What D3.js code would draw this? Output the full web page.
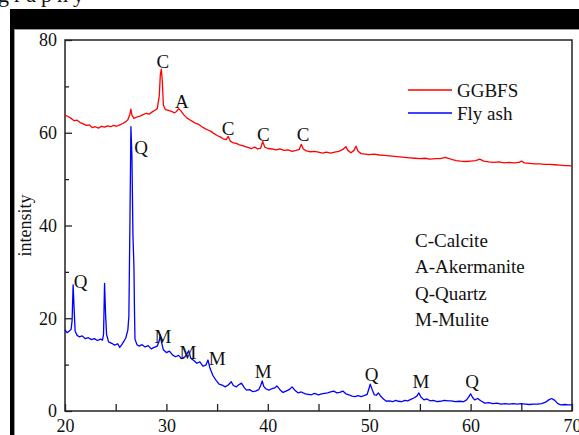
<!DOCTYPE html>
<html>
<head>
<meta charset="utf-8">
<script src="https://cdn.jsdelivr.net/npm/d3@7"></script>
<style>
  body { margin: 0; background: #fff; }
  text { font-family: "Liberation Serif", "Times New Roman", serif; fill: #111; }
</style>
</head>
<body>
<div id="xrdChart"></div>
<script>
// GGBFS pattern (2 theta, intensity)
var ggbfsTheta = [20.0,20.3,20.6,20.9,21.2,21.5,21.8,22.1,22.4,22.7,23.0,23.3,23.6,23.9,24.2,24.5,24.8,25.1,25.4,25.7,
  26.0,26.2,26.4,26.5,26.6,26.8,27.1,27.4,27.7,28.0,28.3,28.6,28.9,29.1,29.3,29.4,29.5,29.6,29.7,29.9,
  30.2,30.5,30.8,31.0,31.2,31.4,31.7,32.0,32.3,32.6,32.9,33.2,33.5,33.8,34.1,34.4,34.7,35.0,35.3,35.6,
  35.9,36.1,36.3,36.6,36.9,37.2,37.5,37.8,38.1,38.4,38.7,39.0,39.3,39.5,39.7,40.0,40.4,40.8,41.2,41.6,
  42.0,42.4,42.8,43.1,43.3,43.5,43.8,44.2,44.6,45.0,45.4,45.8,46.2,46.6,47.0,47.4,47.7,47.9,48.2,48.5,
  48.7,48.9,49.2,49.6,50.0,50.5,51.0,51.5,52.0,52.5,53.0,53.5,54.0,54.5,55.0,55.5,56.0,56.5,57.0,57.5,
  57.8,58.2,58.6,59.0,59.5,60.0,60.5,60.9,61.3,61.8,62.3,62.8,63.3,63.8,64.3,64.8,65.0,65.3,65.8,66.3,
  66.8,67.3,67.8,68.3,68.8,69.3,69.7,70.0];
var ggbfsIntensity = [63.8,63.5,63.1,62.6,62.7,62.2,61.9,61.6,61.7,61.1,61.3,61.0,61.4,61.2,61.5,61.3,61.6,61.4,61.7,62.0,
  62.4,62.8,64.0,65.1,63.8,63.1,63.4,63.6,63.9,64.2,64.0,64.5,64.9,65.2,68.0,72.5,73.7,71.0,66.0,65.0,
  64.8,64.6,64.3,64.6,65.2,64.8,63.9,63.2,62.8,62.4,62.0,61.8,61.3,60.9,60.6,60.3,59.8,59.4,59.1,58.7,
  58.5,59.2,58.2,57.8,57.7,57.4,57.2,57.0,56.8,56.6,56.9,56.5,56.7,58.1,56.9,56.6,56.5,56.3,56.5,56.2,
  56.3,56.0,56.2,56.4,57.5,56.5,56.1,55.9,56.0,55.8,55.6,55.8,55.6,55.8,56.0,56.4,57.0,56.2,55.7,56.2,
  57.1,56.0,55.5,55.4,55.3,55.4,55.2,55.1,55.0,54.9,54.8,54.7,54.6,54.5,54.4,54.5,54.3,54.4,54.4,54.7,
  54.5,54.2,54.0,53.9,53.8,53.9,54.0,54.3,53.9,53.7,53.6,53.7,53.5,53.6,53.5,53.6,53.9,53.5,53.4,53.3,
  53.3,53.2,53.2,53.1,53.0,52.9,52.9,52.8];

// Fly ash pattern (2 theta, intensity)
var flyTheta = [20.0,20.2,20.4,20.6,20.7,20.8,20.9,21.0,21.2,21.4,21.7,22.0,22.3,22.6,22.9,23.2,23.5,23.7,23.8,23.9,
  24.0,24.1,24.3,24.6,24.9,25.2,25.4,25.6,25.8,26.0,26.2,26.3,26.4,26.5,26.6,26.7,26.8,26.85,26.9,27.1,
  27.3,27.6,27.9,28.2,28.5,28.8,29.1,29.3,29.4,29.5,29.7,30.0,30.3,30.6,30.9,31.2,31.5,31.8,32.0,32.2,
  32.4,32.7,33.0,33.3,33.6,33.9,34.1,34.3,34.6,34.9,35.2,35.5,35.8,36.1,36.4,36.6,36.9,37.1,37.4,37.7,
  37.9,38.2,38.5,38.8,39.1,39.3,39.45,39.6,39.8,40.1,40.4,40.7,40.9,41.2,41.5,41.8,42.1,42.4,42.7,43.0,
  43.3,43.7,44.0,44.3,44.6,45.0,45.3,45.6,45.9,46.2,46.5,46.8,47.1,47.4,47.7,48.0,48.3,48.6,48.9,49.2,
  49.5,49.8,50.0,50.1,50.3,50.5,50.7,50.9,51.1,51.4,51.7,52.0,52.3,52.6,52.9,53.2,53.5,53.8,54.1,54.4,
  54.7,54.9,55.1,55.4,55.7,56.0,56.3,56.7,57.0,57.4,57.8,58.1,58.5,58.9,59.3,59.6,59.8,60.0,60.2,60.4,
  60.7,61.0,61.4,61.8,62.2,62.6,63.0,63.4,63.8,64.2,64.6,65.0,65.4,65.8,66.2,66.6,67.0,67.4,67.7,68.0,
  68.3,68.6,68.9,69.3,69.6,70.0];
var flyIntensity = [17.5,16.9,17.2,17.6,19.5,27.2,22.0,17.2,16.3,16.0,16.2,15.6,15.8,15.4,15.6,15.2,15.5,15.3,16.5,27.5,
  21.0,16.5,14.9,14.6,14.2,14.5,13.7,14.3,15.0,15.8,17.5,20.5,40.0,61.3,55.0,38.0,31.0,22.0,15.5,14.3,
  14.0,14.3,13.8,14.1,13.4,13.7,14.0,15.2,16.4,15.0,13.2,12.6,12.9,12.1,11.7,12.0,11.3,11.6,12.2,13.0,
  11.4,10.9,10.3,10.6,9.7,9.9,11.0,9.2,7.6,6.6,5.8,5.6,5.2,5.6,6.3,5.5,5.2,5.6,6.0,5.0,
  4.5,4.6,4.2,4.3,4.6,5.5,6.5,5.3,4.8,4.5,4.8,5.0,5.4,4.6,4.0,4.3,4.6,5.2,4.4,3.9,
  4.1,3.7,3.6,3.5,3.8,3.5,3.7,3.8,3.9,4.1,4.3,3.9,4.0,4.3,3.7,3.5,3.2,3.1,3.3,3.1,
  3.3,3.6,5.0,5.8,4.6,3.5,3.4,3.9,3.3,2.6,2.1,2.2,2.0,2.3,2.1,2.0,2.3,2.2,2.5,2.8,
  3.2,3.9,3.0,2.4,2.6,2.2,2.3,2.0,2.1,2.3,2.2,2.2,2.0,2.1,2.0,2.4,3.0,3.7,2.9,2.4,
  2.7,2.2,1.7,1.8,1.6,1.7,1.5,1.6,1.5,1.6,1.5,1.6,1.5,1.4,1.5,1.5,1.6,1.9,2.4,2.7,
  2.3,1.6,1.3,1.4,1.3,1.3];

// peak labels (2 theta, intensity, phase)
var peakTheta = [29.65, 31.53, 36.09, 39.55, 43.49, 27.5, 21.53, 29.65, 32.13, 35.0, 39.55, 50.25, 55.1, 60.15];
var peakLevel = [74.0, 65.3, 59.5, 58.3, 58.3, 55.4, 26.5, 14.7, 11.2, 9.9, 7.1, 6.5, 4.96, 4.96];
var peakPhase = ["C", "A", "C", "C", "C", "Q", "Q", "M", "M", "M", "M", "Q", "M", "Q"];

var seriesNames = ["GGBFS", "Fly ash"];
var seriesColors = ["#ff0000", "#0000ff"];
var phaseNotes = ["C-Calcite", "A-Akermanite", "Q-Quartz", "M-Mulite"];

var xTicks = [20, 30, 40, 50, 60, 70];
var xMinor = [25, 35, 45, 55, 65];
var yTicks = [0, 20, 40, 60, 80];
var yMinor = [10, 30, 50, 70];

// set the dimensions and margins of the graph
var W = 579, H = 435;
var margin = {top: 40, right: 7, bottom: 24, left: 65},
    width = W - margin.left - margin.right,
    height = H - margin.top - margin.bottom;

var root = d3.select("#xrdChart")
  .append("svg")
    .attr("width", W)
    .attr("height", H);

// black frame from the cropped page
root.append("text")
  .attr("x", -2).attr("y", 2)
  .style("font-size", "22px")
  .style("letter-spacing", "5px")
  .text("graphy");
root.append("rect").attr("x", 10).attr("y", 9).attr("width", W - 10).attr("height", 20).attr("fill", "#000");
root.append("rect").attr("x", 10).attr("y", 9).attr("width", 4).attr("height", H - 9).attr("fill", "#000");
root.append("line").attr("x1", 14).attr("x2", W).attr("y1", 29.5).attr("y2", 29.5).attr("stroke", "#999");
root.append("line").attr("x1", 14.5).attr("x2", 14.5).attr("y1", 29).attr("y2", H).attr("stroke", "#999");

var svg = root.append("g")
  .attr("transform", "translate(" + margin.left + "," + margin.top + ")");

var x = d3.scaleLinear().domain([20, 70]).range([0, width]);
var y = d3.scaleLinear().domain([0, 80]).range([height, 0]);

// axes, ticks pointing inward
svg.append("g")
  .attr("class", "axis")
  .attr("transform", "translate(0," + height + ")")
  .call(d3.axisBottom(x).tickValues(xTicks).tickSize(-7).tickPadding(8).tickFormat(d3.format("d")));
svg.append("g")
  .attr("class", "axis")
  .attr("transform", "translate(0," + height + ")")
  .call(d3.axisBottom(x).tickValues(xMinor).tickSize(-7).tickFormat(""));
svg.append("g")
  .attr("class", "axis")
  .call(d3.axisLeft(y).tickValues(yTicks).tickSize(-7).tickPadding(8).tickFormat(d3.format("d")));
svg.append("g")
  .attr("class", "axis")
  .call(d3.axisLeft(y).tickValues(yMinor).tickSize(-4).tickFormat(""));

svg.selectAll(".axis .domain").remove();
svg.selectAll(".axis line").attr("stroke", "#222").attr("stroke-width", 1.3);
svg.selectAll(".axis text").style("font-size", "18px").style("font-family", "Liberation Serif, serif").attr("fill", "#111");

svg.append("rect")
  .attr("width", width).attr("height", height)
  .attr("fill", "none").attr("stroke", "#222").attr("stroke-width", 1.5);

root.append("text")
  .attr("transform", "translate(31," + (margin.top + height * 0.5) + ") rotate(-90)")
  .attr("text-anchor", "middle")
  .style("font-size", "18px")
  .text("intensity");

// the lines
var line = d3.line()
  .x(function(d) { return x(d[0]); })
  .y(function(d) { return y(d[1]); });

var ggbfs = d3.zip(ggbfsTheta, ggbfsIntensity);
var fly = d3.zip(flyTheta, flyIntensity);

svg.append("path")
  .datum(fly)
  .attr("fill", "none")
  .attr("stroke", seriesColors[1])
  .attr("stroke-width", 1.3)
  .attr("stroke-linejoin", "round")
  .attr("d", line);
svg.append("path")
  .datum(ggbfs)
  .attr("fill", "none")
  .attr("stroke", seriesColors[0])
  .attr("stroke-width", 1.3)
  .attr("stroke-linejoin", "round")
  .attr("d", line);

// peak letters
svg.selectAll(".peak")
  .data(peakPhase)
  .enter()
  .append("text")
  .attr("class", "peak")
  .attr("x", function(d, i) { return x(peakTheta[i]); })
  .attr("y", function(d, i) { return y(peakLevel[i]); })
  .attr("text-anchor", "middle")
  .style("font-size", "19px")
  .text(function(d) { return d; });

// legend
var legend = svg.selectAll(".legend")
  .data(seriesNames)
  .enter()
  .append("g")
  .attr("class", "legend")
  .attr("transform", function(d, i) { return "translate(" + (408 - margin.left) + "," + (90 - margin.top + i * 23) + ")"; });
legend.append("line")
  .attr("x1", 0).attr("x2", 44)
  .attr("stroke", function(d, i) { return seriesColors[i]; })
  .attr("stroke-width", 1.5);
legend.append("text")
  .attr("x", 49).attr("y", 6.5)
  .style("font-size", "19px")
  .text(function(d) { return d; });

// phase key
svg.selectAll(".note")
  .data(phaseNotes)
  .enter()
  .append("text")
  .attr("class", "note")
  .attr("x", 415 - margin.left)
  .attr("y", function(d, i) { return 247 - margin.top + i * 26.3; })
  .style("font-size", "19px")
  .text(function(d) { return d; });
</script>
</body>
</html>
